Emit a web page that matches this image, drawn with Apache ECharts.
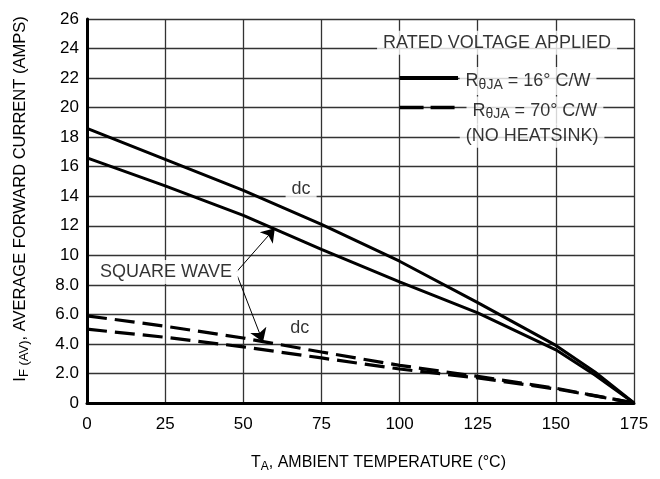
<!DOCTYPE html>
<html>
<head>
<meta charset="utf-8">
<script src="https://cdn.jsdelivr.net/npm/echarts@6/dist/echarts.min.js"></script>
<style>
html,body{margin:0;padding:0;background:#fff;}
#c{width:660px;height:479px;}
</style>
</head>
<body>
<div id="c"></div>
<script>
// ---- data ----
var temps = [0, 25, 50, 75, 100, 125, 150, 162.5, 175];
var dc16 = [18.6, 16.5, 14.4, 12.1, 9.6, 6.8, 3.9, 2.1, 0];
var sq16 = [16.6, 14.7, 12.7, 10.4, 8.2, 6.1, 3.6, 1.9, 0];
var dc70 = [5.9, 5.2, 4.4, 3.45, 2.55, 1.8, 1.0, 0.5, 0];
var sq70 = [5.0, 4.45, 3.8, 3.05, 2.3, 1.7, 0.95, 0.48, 0];
var xTicks = ['0', '25', '50', '75', '100', '125', '150', '175'];
var yTicks = ['0', '2.0', '4.0', '6.0', '8.0', '10', '12', '14', '16', '18', '20', '22', '24', '26'];
var legendSolid = [[100, 22], [118.7, 22]];
var legendDash = [[100, 20], [118.7, 20]];
var notes = [
  {name: 'RATED VOLTAGE APPLIED', value: [131.2, 24.4]},
  {name: '{t|R}{s|θJA}{t| = 16° C/W}', value: [141.1, 21.8]},
  {name: '{t|R}{s|θJA}{t| = 70° C/W}', value: [143.3, 19.8]},
  {name: '(NO HEATSINK)', value: [142.4, 18.1]},
  {name: 'dc', value: [68.5, 14.5]},
  {name: 'dc', value: [68.1, 5.08]},
  {name: 'SQUARE WAVE', value: [25.3, 8.87]}
];
var arrows = [
  [[47.9, 8.89], [60.1, 11.83]],
  [[48.1, 8.6], [56.3, 4.13]]
];

function pairs(xs, ys) { return xs.map(function (x, i) { return [x, ys[i]]; }); }

var FONT = "'Liberation Sans', Arial, sans-serif";
var chart = echarts.init(document.getElementById('c'), null, {renderer: 'canvas'});
var option = {
  backgroundColor: '#fff',
  animation: false,
  textStyle: {fontFamily: FONT, color: '#000'},
  grid: {left: 87, right: 26, top: 19, bottom: 76, containLabel: false},
  xAxis: [{
    type: 'value', min: 0, max: 175, interval: 25,
    axisLine: {show: true, onZero: false, lineStyle: {color: '#000', width: 3}},
    axisTick: {show: false},
    axisLabel: {fontSize: 17, color: '#000', fontFamily: FONT, margin: 13,
      formatter: function (v) { return xTicks[Math.round(v / 25)]; }},
    splitLine: {show: true, lineStyle: {color: '#333', width: 1.3}},
    name: '{t|T}{s|A}{t|, AMBIENT TEMPERATURE (°C)}',
    nameLocation: 'middle', nameGap: 50,
    nameTextStyle: {padding: [0, 0, 0, 36], rich: {
      t: {fontSize: 16, fontFamily: FONT, color: '#000'},
      s: {fontSize: 12, fontFamily: FONT, color: '#000', padding: [8, 0, 0, 0]}
    }}
  }, {
    type: 'value', min: 0, max: 175, position: 'top',
    axisLine: {show: true, lineStyle: {color: '#000', width: 2}},
    axisTick: {show: false}, axisLabel: {show: false}, splitLine: {show: false}
  }],
  yAxis: {
    type: 'value', min: 0, max: 26, interval: 2,
    axisLine: {show: true, lineStyle: {color: '#000', width: 3}},
    axisTick: {show: false},
    axisLabel: {fontSize: 17, color: '#000', fontFamily: FONT, margin: 8,
      formatter: function (v) { return yTicks[Math.round(v / 2)]; }},
    splitLine: {show: true, lineStyle: {color: '#333', width: 1.3}},
    name: '{t|I}{s|F (AV)}{t|, AVERAGE FORWARD CURRENT (AMPS)}',
    nameLocation: 'middle', nameGap: 56,
    nameTextStyle: {padding: [0, 0, 0, 24], rich: {
      t: {fontSize: 16.5, fontFamily: FONT, color: '#000'},
      s: {fontSize: 13, fontFamily: FONT, color: '#000', padding: [9, 0, 0, 0]}
    }}
  },
  series: [
    {type: 'line', name: 'dc 16', data: pairs(temps, dc16), showSymbol: false, smooth: false,
      lineStyle: {color: '#000', width: 3}, z: 5},
    {type: 'line', name: 'sq 16', data: pairs(temps, sq16), showSymbol: false, smooth: false,
      lineStyle: {color: '#000', width: 3}, z: 5},
    {type: 'line', name: 'dc 70', data: pairs(temps, dc70), showSymbol: false, smooth: false,
      lineStyle: {color: '#000', width: 3.2, type: [20, 8]}, z: 5},
    {type: 'line', name: 'sq 70', data: pairs(temps, sq70), showSymbol: false, smooth: false,
      lineStyle: {color: '#000', width: 3.2, type: [20, 8]}, z: 5},
    {type: 'line', name: 'legend solid', data: legendSolid, showSymbol: false,
      lineStyle: {color: '#000', width: 4}, z: 6},
    {type: 'line', name: 'legend dash', data: legendDash, showSymbol: false,
      lineStyle: {color: '#000', width: 3.5, type: [24, 7]}, z: 6},
    {type: 'lines', coordinateSystem: 'cartesian2d', polyline: false,
      data: arrows.map(function (a) { return {coords: a}; }),
      symbol: ['none', 'arrow'], symbolSize: [8, 13],
      lineStyle: {color: '#000', width: 1, opacity: 1}, z: 7},
    {type: 'scatter', name: 'notes', data: notes, symbolSize: 0, z: 8,
      label: {show: true, position: 'inside', formatter: function (p) { return p.name; },
        fontSize: 18, fontFamily: FONT, color: '#000', backgroundColor: '#fff', padding: [3, 6],
        rich: {
          t: {fontSize: 18, fontFamily: FONT, color: '#000'},
          s: {fontSize: 14, fontFamily: FONT, color: '#000', padding: [8, 0, 0, 0]}
        }}}
  ]
};
chart.setOption(option);
</script>
</body>
</html>
